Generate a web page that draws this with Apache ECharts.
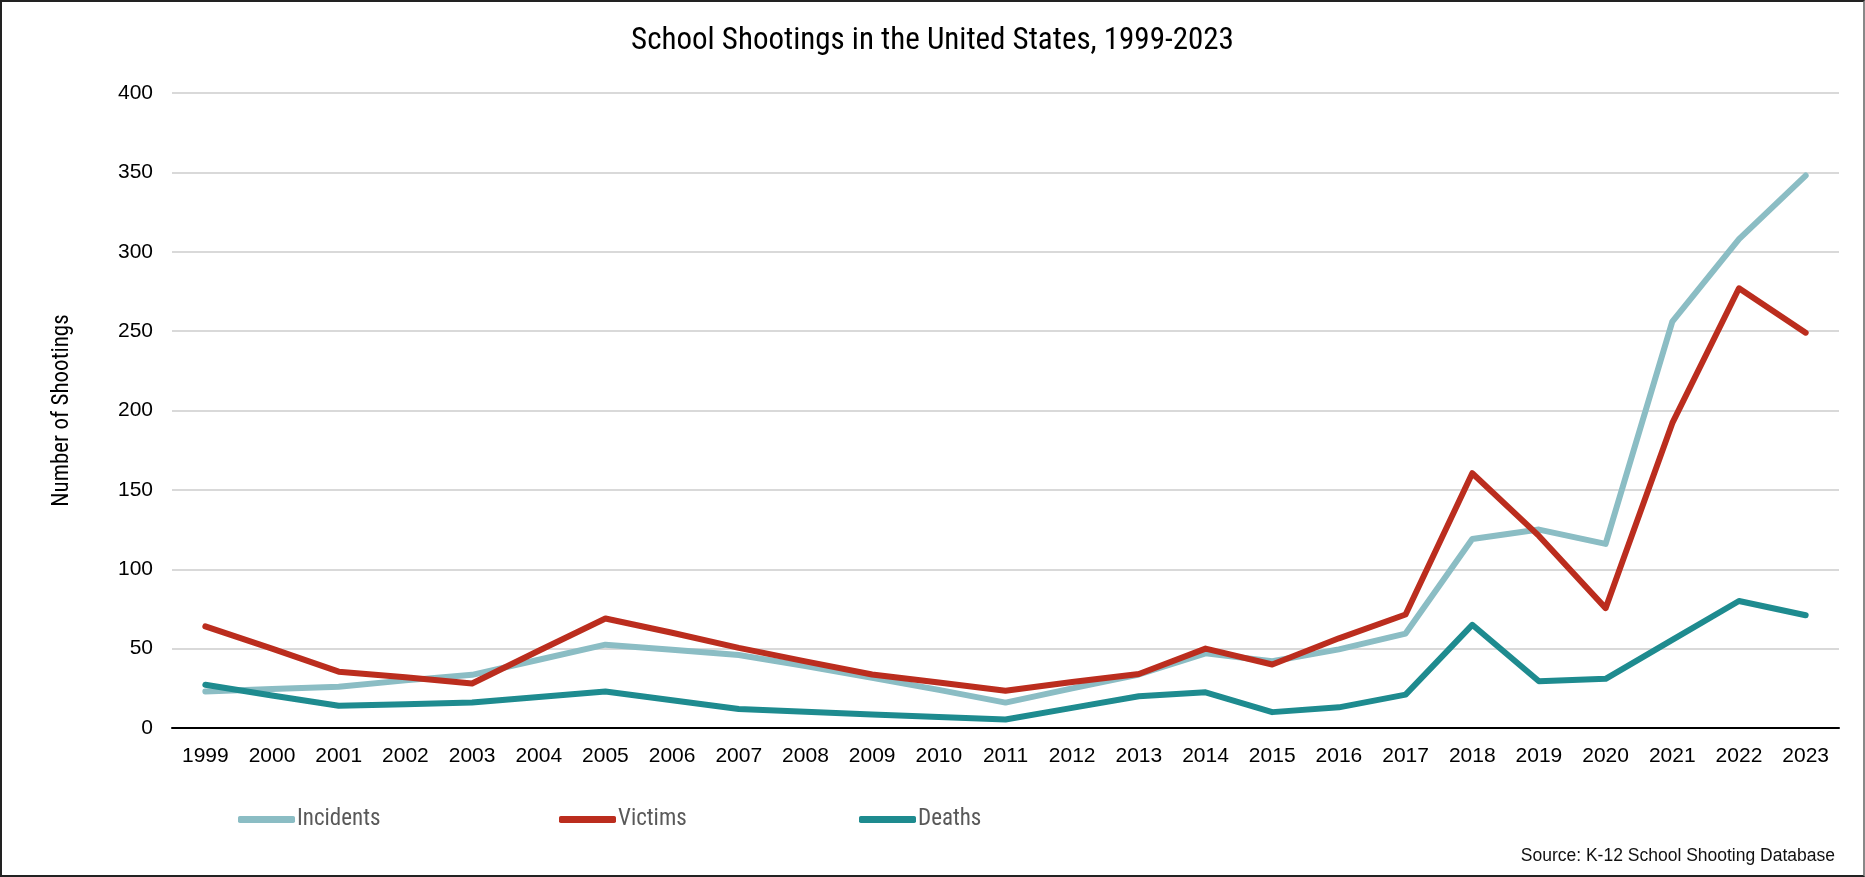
<!DOCTYPE html>
<html>
<head>
<meta charset="utf-8">
<script src="https://cdn.jsdelivr.net/npm/echarts@6/dist/echarts.min.js"></script>
<style>
  html, body { margin: 0; padding: 0; background: #fff; }
  #frame { position: absolute; left: 0; top: 0; width: 1865px; height: 877px; box-sizing: border-box; border: 2px solid #222; border-right-color: #888; }
  #chart { position: absolute; left: 0; top: 0; width: 1865px; height: 877px; }
</style>
</head>
<body>
<div id="chart"></div>
<div id="frame"></div>
<script>
const years = ['1999','2000','2001','2002','2003','2004','2005','2006','2007','2008','2009','2010','2011','2012','2013','2014','2015','2016','2017','2018','2019','2020','2021','2022','2023'];
const incidents = [23, 24.5, 26, 30, 33.5, 43, 52.5, 49.3, 46, 39, 31.6, 24, 16, 25, 33.7, 47, 42, 49.5, 59.5, 119, 125, 116, 256, 308, 348];
const victims   = [64, 50, 35.5, 32, 28, 48.7, 69, 60, 50.5, 42, 33.7, 28.6, 23.5, 29, 34, 50, 40, 56.5, 71.5, 160.5, 121, 75.5, 192, 277, 249];
const deaths    = [27.2, 20.5, 14, 15, 16, 19.5, 23, 17.5, 12, 10.2, 8.5, 7, 5.4, 12.7, 20, 22.5, 10, 13, 21, 65, 29.5, 31, 55.5, 80, 71];
const yTicks = { min: 0, max: 400, interval: 50 };

const narrow = '"Liberation Sans Narrow", "Roboto Condensed", "Liberation Sans", sans-serif';
const regular = '"Liberation Sans", Arial, sans-serif';

const colors = { Incidents: '#8BBDC4', Victims: '#BB2D1E', Deaths: '#1E8B8F' };

function mkSeries(name, data) {
  return {
    name: name, type: 'line', data: data, symbol: 'none', smooth: false,
    lineStyle: { color: colors[name], width: 6, cap: 'round', join: 'round' },
    itemStyle: { color: colors[name] }
  };
}
function mkLegend(name, left) {
  return {
    data: [name], left: left, top: 808, icon: 'roundRect', itemWidth: 57, itemHeight: 7,
    itemGap: 0, padding: 0,
    textStyle: { fontFamily: narrow, fontSize: 23, color: '#595959', padding: [0, 0, 0, -3] }
  };
}

const chart = echarts.init(document.getElementById('chart'), null, { renderer: 'canvas' });
chart.setOption({
  animation: false,
  backgroundColor: '#fff',
  title: {
    text: 'School Shootings in the United States, 1999-2023',
    left: 'center', top: 21,
    textStyle: { fontFamily: narrow, fontSize: 31, fontWeight: 'normal', color: '#000' }
  },
  graphic: [{
    type: 'text', right: 30, top: 847,
    style: { text: 'Source: K-12 School Shooting Database', font: '17.5px ' + regular, fill: '#111' }
  }],
  legend: [mkLegend('Incidents', 238), mkLegend('Victims', 559), mkLegend('Deaths', 859)],
  grid: { left: 172, right: 26, top: 93, bottom: 149, containLabel: false },
  xAxis: {
    type: 'category', data: years, boundaryGap: true,
    axisLine: { lineStyle: { color: '#000', width: 2 } },
    axisTick: { show: false },
    axisLabel: { fontFamily: regular, fontSize: 21, color: '#000', margin: 18 }
  },
  yAxis: {
    type: 'value', min: yTicks.min, max: yTicks.max, interval: yTicks.interval,
    name: 'Number of Shootings', nameLocation: 'middle', nameGap: 98, nameRotate: 90,
    nameTextStyle: { fontFamily: narrow, fontSize: 23, color: '#000' },
    axisLine: { show: false }, axisTick: { show: false },
    splitLine: { lineStyle: { color: '#D9D9D9', width: 2 } },
    axisLabel: { fontFamily: regular, fontSize: 21, color: '#000', margin: 19 }
  },
  series: [mkSeries('Incidents', incidents), mkSeries('Victims', victims), mkSeries('Deaths', deaths)]
});
</script>
</body>
</html>
